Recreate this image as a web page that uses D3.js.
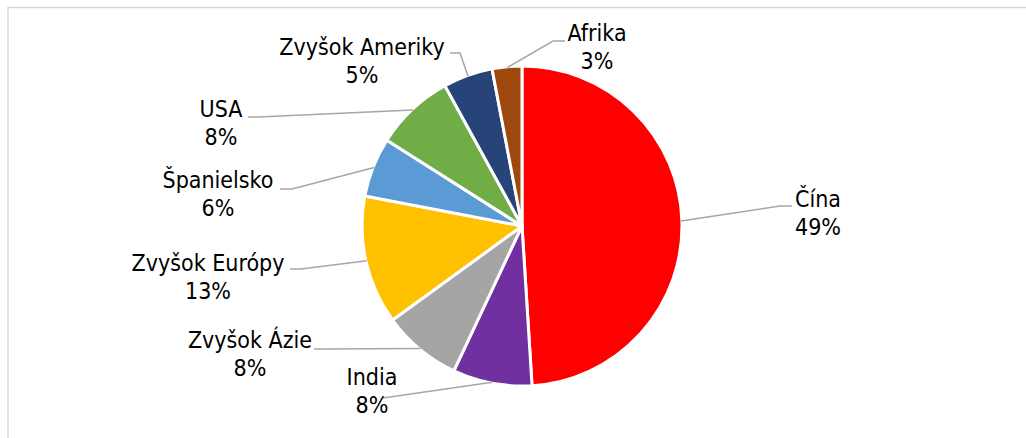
<!DOCTYPE html>
<html>
<head>
<meta charset="utf-8">
<script src="https://cdn.jsdelivr.net/npm/d3@7/dist/d3.min.js"></script>
<style>
  html, body { margin: 0; padding: 0; background: #fff; }
  svg { display: block; }
  text { font-family: "DejaVu Sans Condensed", "DejaVu Sans", sans-serif; font-size: 23px; fill: #000; }
</style>
</head>
<body>
<svg id="chart" width="1026" height="438"></svg>
<script>
// Regions and their shares (%)
const regions = ["Čína", "India", "Zvyšok Ázie", "Zvyšok Európy", "Španielsko", "USA", "Zvyšok Ameriky", "Afrika"];
const shares  = [49, 8, 8, 13, 6, 8, 5, 3];
const colors  = ["#FF0000", "#7030A0", "#A5A5A5", "#FFC000", "#5B9BD5", "#70AD47", "#264478", "#9E480E"];

// Label placement: text centre x, first-line baseline y, and the leader's
// anchor at the label (lx, ly) plus the short horizontal elbow (ex).
const labelLayout = [
  { x: 818, y: 207, lx: 792, ly: 206, ex: 780 },
  { x: 372, y: 385, lx: 383, ly: 398, ex: 383 },
  { x: 250, y: 348, lx: 314, ly: 349, ex: 322 },
  { x: 208, y: 271, lx: 290, ly: 269, ex: 301 },
  { x: 218, y: 188, lx: 280, ly: 189, ex: 292 },
  { x: 221, y: 117, lx: 248, ly: 117, ex: 258 },
  { x: 362, y: 55,  lx: 450, ly: 53,  ex: 460 },
  { x: 597, y: 41,  lx: 565, ly: 41,  ex: 553 }
];

const svg = d3.select("#chart");
const cx = 522, cy = 226, radius = 160;

// chart area frame (runs off the right and bottom edges)
svg.append("rect")
  .attr("x", 8).attr("y", 7.5)
  .attr("width", 1040).attr("height", 460)
  .attr("fill", "#fff")
  .attr("stroke", "#d9d9d9")
  .attr("stroke-width", 1.5);

const data = regions.map((name, i) => ({ name, value: shares[i], color: colors[i], layout: labelLayout[i] }));

const pie = d3.pie().value(d => d.value).sort(null).startAngle(0).endAngle(2 * Math.PI);
const arcs = pie(data);

const arc = d3.arc().innerRadius(0).outerRadius(radius);

const g = svg.append("g").attr("transform", `translate(${cx},${cy})`);

g.selectAll("path.slice")
  .data(arcs)
  .join("path")
  .attr("class", "slice")
  .attr("d", arc)
  .attr("fill", d => d.data.color)
  .attr("stroke", "#fff")
  .attr("stroke-width", 3)
  .attr("stroke-linejoin", "round");

// leader lines from the slice edge to the label
const edge = d => {
  const a = (d.startAngle + d.endAngle) / 2;
  return [cx + (radius - 1) * Math.sin(a), cy - (radius - 1) * Math.cos(a)];
};

svg.append("g").selectAll("path.leader")
  .data(arcs)
  .join("path")
  .attr("class", "leader")
  .attr("fill", "none")
  .attr("stroke", "#a6a6a6")
  .attr("stroke-width", 1.5)
  .attr("d", d => {
    const L = d.data.layout;
    const [px, py] = edge(d);
    return d3.line()([[L.lx, L.ly], [L.ex, L.ly], [px, py]]);
  });

// category and percentage labels
const labels = svg.append("g").selectAll("text.label")
  .data(arcs)
  .join("text")
  .attr("class", "label")
  .attr("text-anchor", "middle");

labels.append("tspan")
  .attr("x", d => d.data.layout.x)
  .attr("y", d => d.data.layout.y)
  .text(d => d.data.name);

labels.append("tspan")
  .attr("x", d => d.data.layout.x)
  .attr("y", d => d.data.layout.y + 28)
  .text(d => d.data.value + "%");
</script>
</body>
</html>
